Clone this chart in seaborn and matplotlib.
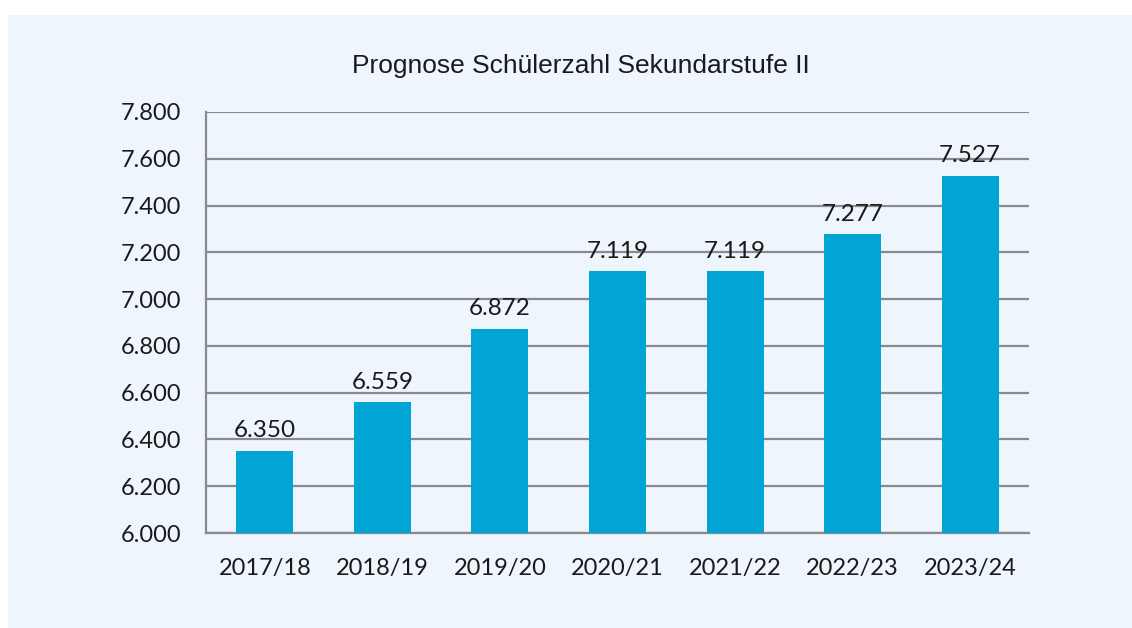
import seaborn as sns
import pandas as pd
import matplotlib.pyplot as plt
from matplotlib.patches import Rectangle
from matplotlib.ticker import FuncFormatter, FixedLocator

# data
years = ["2017/18", "2018/19", "2019/20", "2020/21", "2021/22", "2022/23", "2023/24"]
students = [6350, 6559, 6872, 7119, 7119, 7277, 7527]
y_ticks = [6000, 6200, 6400, 6600, 6800, 7000, 7200, 7400, 7600, 7800]

bar_color = "#00A5D5"
grid_color = "#8A8A8A"
panel_color = "#EEF5FC"
tick_font = ["Lato", "DejaVu Sans"]
title_font = ["Liberation Sans", "DejaVu Sans"]

def de_num(v):
    # German thousands separator
    return f"{int(v):,}".replace(",", ".")

df = pd.DataFrame({"year": years, "students": students})

sns.set_style("white")
fig = plt.figure(figsize=(11.32, 6.28), dpi=100)
fig.patch.set_facecolor("white")
fig.patches.append(Rectangle((8 / 1132, 0), 1, 1 - 15 / 628,
                             transform=fig.transFigure, facecolor=panel_color,
                             edgecolor="none", zorder=-5))

ax = fig.add_axes([206 / 1132, 1 - 533 / 628, (1029 - 206) / 1132, (533 - 112) / 628])
ax.set_facecolor("none")

sns.barplot(data=df, x="year", y="students", color=bar_color, saturation=1,
            width=0.485, linewidth=0, edgecolor="none", ax=ax, zorder=3)

ax.set_ylim(6000, 7800)
ax.set_xlim(-0.5, len(years) - 0.5)
ax.yaxis.set_major_locator(FixedLocator(y_ticks))
ax.yaxis.set_major_formatter(FuncFormatter(lambda v, p: de_num(v)))
ax.grid(axis="y", color=grid_color, linewidth=1.6, zorder=0)
ax.set_axisbelow(True)

for side in ["top", "right"]:
    ax.spines[side].set_visible(False)
for side in ["left", "bottom"]:
    ax.spines[side].set_color(grid_color)
    ax.spines[side].set_linewidth(1.6)

# category separators on the x axis
ax.set_xticks([i + 0.5 for i in range(-1, len(years))], minor=True)
ax.tick_params(axis="x", which="minor", length=8, width=1.6, color=grid_color, direction="out")
ax.tick_params(axis="x", which="major", length=0, pad=18)
ax.tick_params(axis="y", length=8, width=1.6, color=grid_color, direction="out", pad=10)

for lab in ax.get_xticklabels() + ax.get_yticklabels():
    lab.set_fontfamily(tick_font)
    lab.set_fontsize(17)
    lab.set_color("#1a1a1a")

for i, v in enumerate(students):
    ax.annotate(de_num(v), (i, v), xytext=(0, 7), textcoords="offset points",
                ha="center", va="bottom", fontsize=17.5, family=tick_font, color="#1a1a1a")

ax.set_xlabel("")
ax.set_ylabel("")
fig.text(581 / 1132, 1 - 66 / 628, "Prognose Schülerzahl Sekundarstufe II",
         ha="center", va="center", fontsize=19, family=title_font, color="#1a1a1a")

fig.savefig("out.png", dpi=100)
